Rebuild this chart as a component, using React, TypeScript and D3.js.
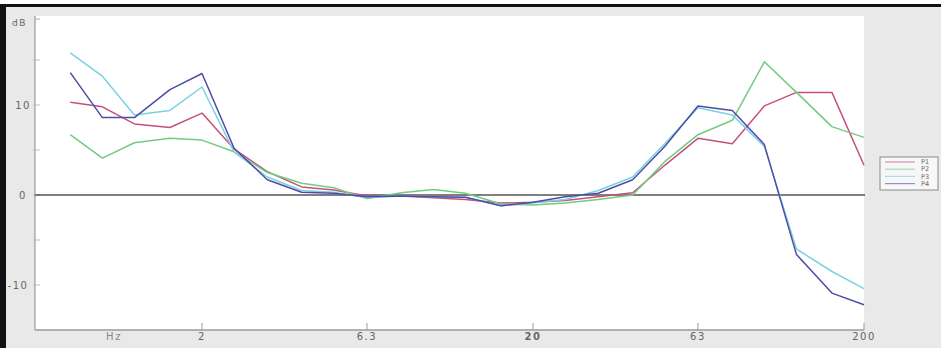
import React from "react";
import * as d3 from "d3";

// Third-octave band centre frequencies (Hz)
const freqs = [0.8, 1, 1.25, 1.6, 2, 2.5, 3.15, 4, 5, 6.3, 8, 10, 12.5, 16, 20, 25, 31.5, 40, 50, 63, 80, 100, 125, 160, 200];

// Level per band (dB)
const p1 = [10.3, 9.8, 7.9, 7.5, 9.1, 5.1, 2.6, 0.9, 0.55, -0.1, -0.1, -0.3, -0.5, -0.9, -0.8, -0.6, -0.2, 0.25, 3.3, 6.3, 5.7, 9.9, 11.4, 11.4, 3.3];
const p2 = [6.7, 4.1, 5.8, 6.3, 6.1, 4.8, 2.5, 1.3, 0.8, -0.4, 0.25, 0.6, 0.2, -1.0, -1.1, -0.9, -0.5, 0.0, 3.7, 6.7, 8.3, 14.8, 11.4, 7.6, 6.4];
const p3 = [15.8, 13.2, 8.9, 9.4, 12.0, 4.8, 2.0, 0.5, 0.3, -0.3, -0.1, -0.2, -0.25, -1.2, -0.9, -0.5, 0.5, 2.0, 5.7, 9.7, 8.9, 5.4, -6.0, -8.5, -10.4];
const p4 = [13.6, 8.6, 8.6, 11.7, 13.5, 5.2, 1.7, 0.3, 0.2, -0.2, -0.1, -0.2, -0.25, -1.2, -0.8, -0.2, 0.2, 1.7, 5.4, 9.9, 9.4, 5.6, -6.6, -10.9, -12.2];

const seriesNames = ["P1", "P2", "P3", "P4"];
const seriesColors = ["#c4507e", "#74cb80", "#7ad3df", "#4e4ca6"];

const xTicks = [2, 6.3, 20, 63, 200];
const xTickLabels = ["2", "6.3", "20", "63", "200"];
const yMajor = [10, 0, -10];
const yMinor = [15, 5, -5];

const W = 941;
const H = 348;
const plot = { left: 35, right: 864, top: 16, bottom: 330 };

export default function App() {
  const x = d3.scaleLog().domain([2, 200]).range([202, 864]);
  const y = d3.scaleLinear().domain([-15, 20]).range([330, 15]);

  const line = d3
    .line<number>()
    .x((_, i) => x(freqs[i]))
    .y((d) => y(d));

  const series = [p1, p2, p3, p4];
  const font = "'DejaVu Sans', Verdana, sans-serif";

  return (
    <svg
      width={W}
      height={H}
      style={{ position: "absolute", left: 0, top: 0 }}
      fontFamily={font}
    >
      {/* frame */}
      <rect x={0} y={0} width={W} height={H} fill="#ffffff" />
      <rect x={0} y={4} width={W} height={H - 4} fill="#e9e9e9" />
      <rect x={0} y={4} width={W} height={3} fill="#111" />
      <rect x={0} y={4} width={6} height={H - 4} fill="#111" />

      {/* plot area */}
      <rect
        x={plot.left}
        y={plot.top}
        width={plot.right - plot.left}
        height={plot.bottom - plot.top}
        fill="#ffffff"
      />

      {/* axes */}
      <line x1={plot.left} x2={plot.left} y1={plot.top} y2={plot.bottom} stroke="#9a9a9a" strokeWidth={1.2} />
      <line x1={plot.left} x2={plot.right} y1={plot.bottom} y2={plot.bottom} stroke="#9a9a9a" strokeWidth={1.5} />

      {/* y ticks */}
      <line x1={plot.left} x2={plot.left + 5} y1={19} y2={19} stroke="#aaa" />
      {[...yMajor, ...yMinor].map((v) => (
        <line key={`yt${v}`} x1={plot.left - 2} x2={plot.left + 5} y1={y(v)} y2={y(v)} stroke="#bbb" strokeWidth={1} />
      ))}
      {yMajor.map((v) => (
        <text
          key={`yl${v}`}
          x={v < 0 ? 18 : 23}
          y={y(v)}
          dy="0.35em"
          textAnchor="middle"
          fontSize={10}
          letterSpacing={1.5}
          fill="#666"
        >
          {v}
        </text>
      ))}
      <text x={12} y={26} fontSize={9} letterSpacing={1.5} fill="#666">
        dB
      </text>

      {/* x ticks */}
      {xTicks.map((f, i) => (
        <g key={`xt${f}`}>
          <line x1={x(f)} x2={x(f)} y1={plot.bottom - 7} y2={plot.bottom} stroke="#999" />
          <text
            x={x(f)}
            y={340}
            textAnchor="middle"
            fontSize={10}
            letterSpacing={1.5}
            fill="#666"
            fontWeight={f === 20 ? "bold" : "normal"}
          >
            {xTickLabels[i]}
          </text>
        </g>
      ))}
      <text x={114} y={340} textAnchor="middle" fontSize={10} letterSpacing={1.5} fill="#888">
        Hz
      </text>

      {/* zero reference */}
      <line x1={plot.left} x2={plot.right + 1} y1={y(0)} y2={y(0)} stroke="#555" strokeWidth={1.5} />

      {/* series */}
      {series.map((s, k) => (
        <path
          key={seriesNames[k]}
          d={line(s) ?? undefined}
          fill="none"
          stroke={seriesColors[k]}
          strokeWidth={1.5}
          strokeLinejoin="round"
        />
      ))}

      {/* legend */}
      <g>
        <rect x={880} y={157} width={58} height={33} fill="#f7f7f7" stroke="#8a8a8a" strokeWidth={1} />
        {seriesNames.map((n, k) => {
          const ly = 162 + k * 7.2;
          return (
            <g key={`lg${n}`}>
              <line x1={885} x2={915} y1={ly} y2={ly} stroke={seriesColors[k]} strokeWidth={1.2} opacity={0.6} />
              <text x={921} y={ly} dy="0.35em" fontSize={6.5} fill="#666">
                {n}
              </text>
            </g>
          );
        })}
      </g>
    </svg>
  );
}
